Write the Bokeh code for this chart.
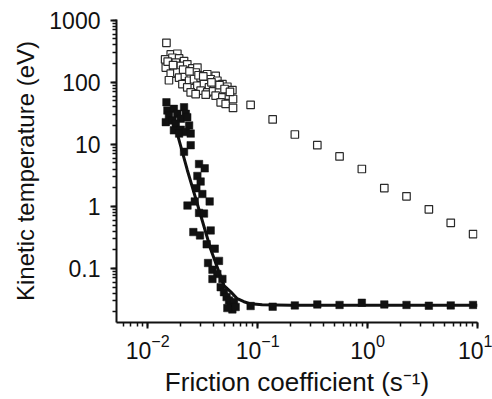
from bokeh.plotting import figure
from bokeh.models import LogTicker, CustomJSTickFormatter, Title
from bokeh.embed import file_html
from bokeh.resources import INLINE

# ---- data ----
open_cluster_x = [0.0148, 0.0162, 0.0186, 0.0144, 0.0168, 0.0193, 0.0156, 0.0180, 0.0214,
                  0.0146, 0.0174, 0.0200, 0.0229, 0.0162, 0.0186, 0.0222, 0.0255, 0.0283,
                  0.0156, 0.0193, 0.0218, 0.0246, 0.0273, 0.0348, 0.0415, 0.0207, 0.0238,
                  0.0264, 0.0303, 0.0337, 0.0374, 0.0430, 0.0229, 0.0283, 0.0325, 0.0361,
                  0.0401, 0.0478, 0.0530, 0.0246, 0.0303, 0.0348, 0.0393, 0.0445, 0.0512,
                  0.0589, 0.0273, 0.0337, 0.0415, 0.0478, 0.0548, 0.0461, 0.0512, 0.0597,
                  0.0597, 0.0152, 0.0170, 0.0210, 0.0240, 0.0290, 0.0320, 0.0380, 0.0450,
                  0.0500, 0.0560]
open_cluster_y = [433, 282, 289, 234, 249, 243, 195, 207, 220,
                  173, 168, 184, 195, 138, 144, 153, 168, 173,
                  108, 119, 127, 135, 144, 135, 127, 93.5, 106,
                  112, 119, 106, 112, 106, 82.8, 88, 93.5, 82.8,
                  91.2, 93.5, 84.8, 68.9, 73.2, 68.9, 71.5, 75.0, 68.9,
                  75.0, 64.7, 63.1, 60.8, 57.3, 60.8, 47.6, 44.8, 53.8,
                  38.6, 215, 190, 160, 150, 130, 125, 100, 90,
                  78, 70]
open_sparse_x = [0.0863, 0.137, 0.218, 0.349, 0.556, 0.887, 1.42, 2.26, 3.61, 5.71, 9.12]
open_sparse_y = [43.2, 25.2, 14.4, 9.68, 6.38, 4.0, 1.97, 1.45, 0.895, 0.543, 0.357]

filled_x = [0.0148, 0.0151, 0.0173, 0.0214, 0.0156, 0.0186, 0.0222, 0.0146, 0.0168, 0.0200,
            0.0229, 0.0180, 0.0173, 0.0200, 0.0238, 0.0193, 0.0222, 0.0246, 0.0246, 0.0214,
            0.0293, 0.0330, 0.0283, 0.0303, 0.0277, 0.0314, 0.0230, 0.0268, 0.0366, 0.0293,
            0.0325, 0.0260, 0.0299, 0.0374, 0.0344, 0.0407, 0.0354, 0.0445, 0.0388, 0.0430,
            0.0388, 0.0478, 0.0461, 0.0494, 0.0522, 0.0549, 0.0569, 0.0589, 0.0610, 0.0631,
            0.0530]
filled_y = [47.6, 35.1, 37.3, 39.6, 29.2, 31.0, 31.0, 22.8, 24.3, 25.8,
            27.4, 21.5, 16.8, 17.2, 20.2, 14.9, 15.8, 14.9, 9.68, 7.57,
            4.81, 4.10, 3.09, 2.51, 1.96, 1.58, 1.03, 1.20, 1.20, 0.784,
            0.764, 0.385, 0.340, 0.409, 0.244, 0.208, 0.122, 0.132, 0.0951, 0.0811,
            0.0675, 0.0675, 0.0497, 0.0413, 0.0344, 0.0304, 0.0253, 0.0218, 0.0286, 0.0238,
            0.0229]
filled_sparse_x = [0.0863, 0.137, 0.218, 0.349, 0.556, 0.887, 1.42, 2.26, 3.61, 5.71, 9.12]
filled_sparse_y = [0.0247, 0.0241, 0.0253, 0.0262, 0.0257, 0.0279, 0.0262, 0.0257, 0.0250,
                   0.0253, 0.0257]

fit_x = [0.0177, 0.0229, 0.0300, 0.0374, 0.0440, 0.0494, 0.0570, 0.0653, 0.0750, 0.0863,
         0.110, 0.200, 1.0, 10.0]
fit_y = [20.2, 3.86, 0.766, 0.203, 0.092, 0.0527, 0.0418, 0.0324, 0.0290, 0.0268,
         0.0258, 0.0254, 0.0254, 0.0254]

x_label = "Friction coefficient (s\u207b\u00b9)"
y_label = "Kinetic temperature (eV)"

FONT = "Liberation Sans"
INK = "#111111"

p = figure(width=492, height=399, x_axis_type="log", y_axis_type="log",
           x_range=(0.0052, 10), y_range=(0.0134, 1030),
           output_backend="svg", toolbar_location=None,
           min_border_left=116, min_border_right=15, min_border_top=19, min_border_bottom=75)

p.outline_line_color = None
p.xgrid.visible = False
p.ygrid.visible = False
p.background_fill_color = "white"
p.border_fill_color = "white"

p.line(fit_x, fit_y, line_color=INK, line_width=3)
p.scatter(filled_x + filled_sparse_x, filled_y + filled_sparse_y, marker="square",
          size=7.5, fill_color=INK, line_color=INK, line_width=0.5)
p.scatter(open_cluster_x + open_sparse_x, open_cluster_y + open_sparse_y, marker="square",
          size=7.5, fill_color="white", line_color="#2a2a2a", line_width=1.2)

for ax in (p.xaxis[0], p.yaxis[0]):
    ax.ticker = LogTicker(num_minor_ticks=10)
    ax.axis_line_width = 2
    ax.axis_line_color = INK
    ax.major_tick_line_color = INK
    ax.minor_tick_line_color = INK
    ax.major_tick_line_width = 2
    ax.minor_tick_line_width = 1.5
    ax.major_tick_in = 0
    ax.major_tick_out = 6
    ax.minor_tick_in = 0
    ax.minor_tick_out = 4
    ax.major_label_text_font = FONT
    ax.major_label_text_font_size = "23px"
    ax.major_label_text_color = INK

p.yaxis[0].formatter = CustomJSTickFormatter(code="return Number(tick.toPrecision(3)).toString();")
p.yaxis[0].major_label_standoff = 10

p.xaxis[0].major_label_standoff = 5
p.xaxis[0].axis_label = x_label
p.xaxis[0].axis_label_text_font = FONT
p.xaxis[0].axis_label_text_font_size = "26px"
p.xaxis[0].axis_label_text_font_style = "normal"
p.xaxis[0].axis_label_text_color = INK
p.xaxis[0].axis_label_standoff = 5

t = Title(text=y_label, align="center", offset=36, text_font=FONT, text_font_size="24px",
          text_font_style="normal", text_color=INK, standoff=15)
p.add_layout(t, "left")

open("out.html", "w").write(file_html(p, INLINE))
